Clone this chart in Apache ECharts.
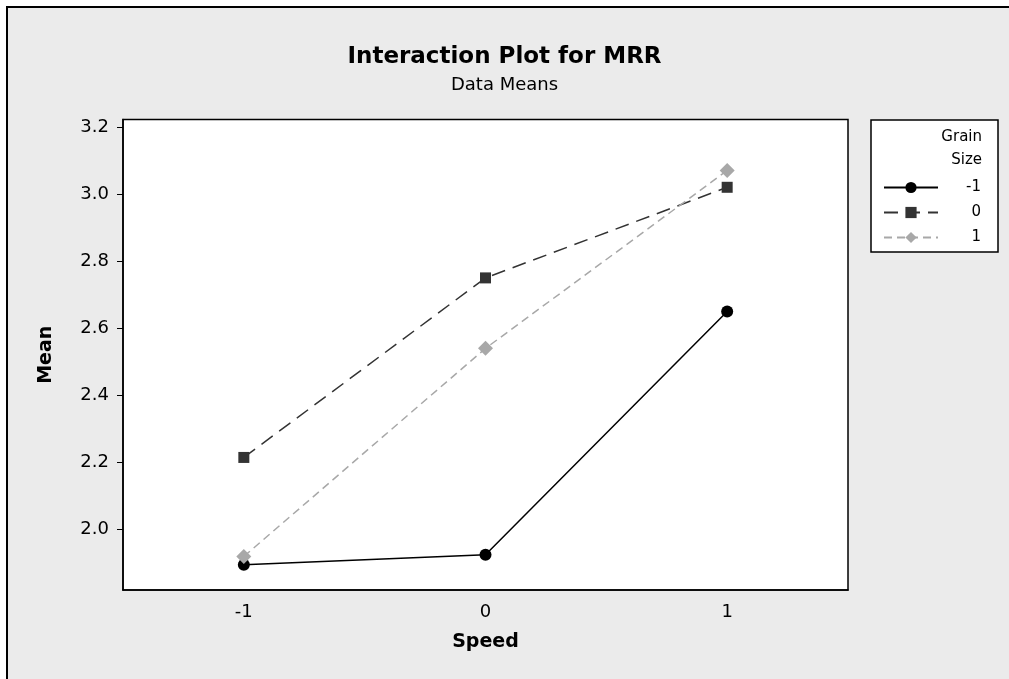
<!DOCTYPE html>
<html>
<head>
<meta charset="utf-8">
<script src="https://cdn.jsdelivr.net/npm/echarts@6/dist/echarts.min.js"></script>
<style>
  html, body { margin: 0; padding: 0; background: #fff; }
  #main { width: 1009px; height: 679px; }
</style>
</head>
<body>
<div id="main"></div>
<script>
var myChart = echarts.init(document.getElementById('main'));

// data
var speed = ['-1', '0', '1'];
var grainNames = ['-1', '0', '1'];
var grainM1 = [1.895, 1.925, 2.65];
var grain0 = [2.215, 2.75, 3.02];
var grain1 = [1.92, 2.54, 3.07];
var yTicks = [2.0, 2.2, 2.4, 2.6, 2.8, 3.0, 3.2];

var font = 'DejaVu Sans';

option = {
    backgroundColor: '#fff',
    animation: false,
    graphic: [
        {
            // outer frame
            type: 'rect', z: -10,
            shape: { x: 7, y: 7, width: 1020, height: 700 },
            style: { fill: '#ebebeb', stroke: '#000', lineWidth: 2 }
        },
        {
            // legend box
            type: 'rect', z: 1,
            shape: { x: 871, y: 120, width: 127, height: 132 },
            style: { fill: '#fff', stroke: '#000', lineWidth: 1.5 }
        },
        {
            type: 'text', z: 5, x: 982, y: 137,
            style: { text: 'Grain', fill: '#000', font: '15px ' + font, align: 'right', verticalAlign: 'middle' }
        },
        {
            type: 'text', z: 5, x: 982, y: 160,
            style: { text: 'Size', fill: '#000', font: '15px ' + font, align: 'right', verticalAlign: 'middle' }
        }
    ],
    title: {
        text: 'Interaction Plot for MRR',
        subtext: 'Data Means',
        left: 'center',
        top: 41,
        itemGap: 7,
        textStyle: { fontFamily: font, fontSize: 23, fontWeight: 'bold', color: '#000' },
        subtextStyle: { fontFamily: font, fontSize: 18, color: '#000' }
    },
    legend: {
        data: grainNames,
        orient: 'vertical',
        left: 878,
        top: 175,
        itemWidth: 54,
        itemHeight: 14,
        itemGap: 10,
        formatter: function (name) { return '{r|' + name + '}'; },
        textStyle: {
            fontFamily: font, fontSize: 15, color: '#000',
            rich: { r: { width: 38, align: 'right', fontFamily: font, fontSize: 15, color: '#000' } }
        }
    },
    grid: {
        left: 123,
        right: 161,
        top: 119.5,
        bottom: 89,
        show: true,
        backgroundColor: '#fff',
        borderColor: '#000',
        borderWidth: 1.5
    },
    xAxis: {
        type: 'category',
        data: speed,
        boundaryGap: true,
        name: 'Speed',
        nameLocation: 'middle',
        nameGap: 43,
        nameTextStyle: { fontFamily: font, fontSize: 19, fontWeight: 'bold', color: '#000' },
        axisLine: { lineStyle: { color: '#000', width: 1.5 } },
        axisTick: { alignWithLabel: true, length: 6, lineStyle: { color: '#000' } },
        axisLabel: { fontFamily: font, fontSize: 18, color: '#000', margin: 13 },
        splitLine: { show: false }
    },
    yAxis: {
        type: 'value',
        min: 1.82,
        max: 3.222,
        name: 'Mean',
        nameLocation: 'middle',
        nameGap: 67,
        nameTextStyle: { fontFamily: font, fontSize: 19, fontWeight: 'bold', color: '#000' },
        axisLine: { show: true, lineStyle: { color: '#000', width: 1.5 } },
        axisTick: { show: true, length: 6, customValues: yTicks, lineStyle: { color: '#000' } },
        axisLabel: {
            fontFamily: font, fontSize: 18, color: '#000', margin: 14,
            customValues: yTicks,
            formatter: function (v) { return v.toFixed(1); }
        },
        splitLine: { show: false }
    },
    series: [
        {
            name: '-1',
            type: 'line',
            data: grainM1,
            symbol: 'circle',
            symbolSize: 12,
            itemStyle: { color: '#000' },
            lineStyle: { color: '#000', width: 1.5, type: 'solid' }
        },
        {
            name: '0',
            type: 'line',
            data: grain0,
            symbol: 'rect',
            symbolSize: 11,
            itemStyle: { color: '#333' },
            lineStyle: { color: '#333', width: 1.5, type: [14, 8] }
        },
        {
            name: '1',
            type: 'line',
            data: grain1,
            symbol: 'diamond',
            symbolSize: 15,
            itemStyle: { color: '#a8a8a8' },
            lineStyle: { color: '#a8a8a8', width: 1.5, type: [8, 5] }
        }
    ]
};

myChart.setOption(option);
window.onresize = myChart.resize;
</script>
</body>
</html>
